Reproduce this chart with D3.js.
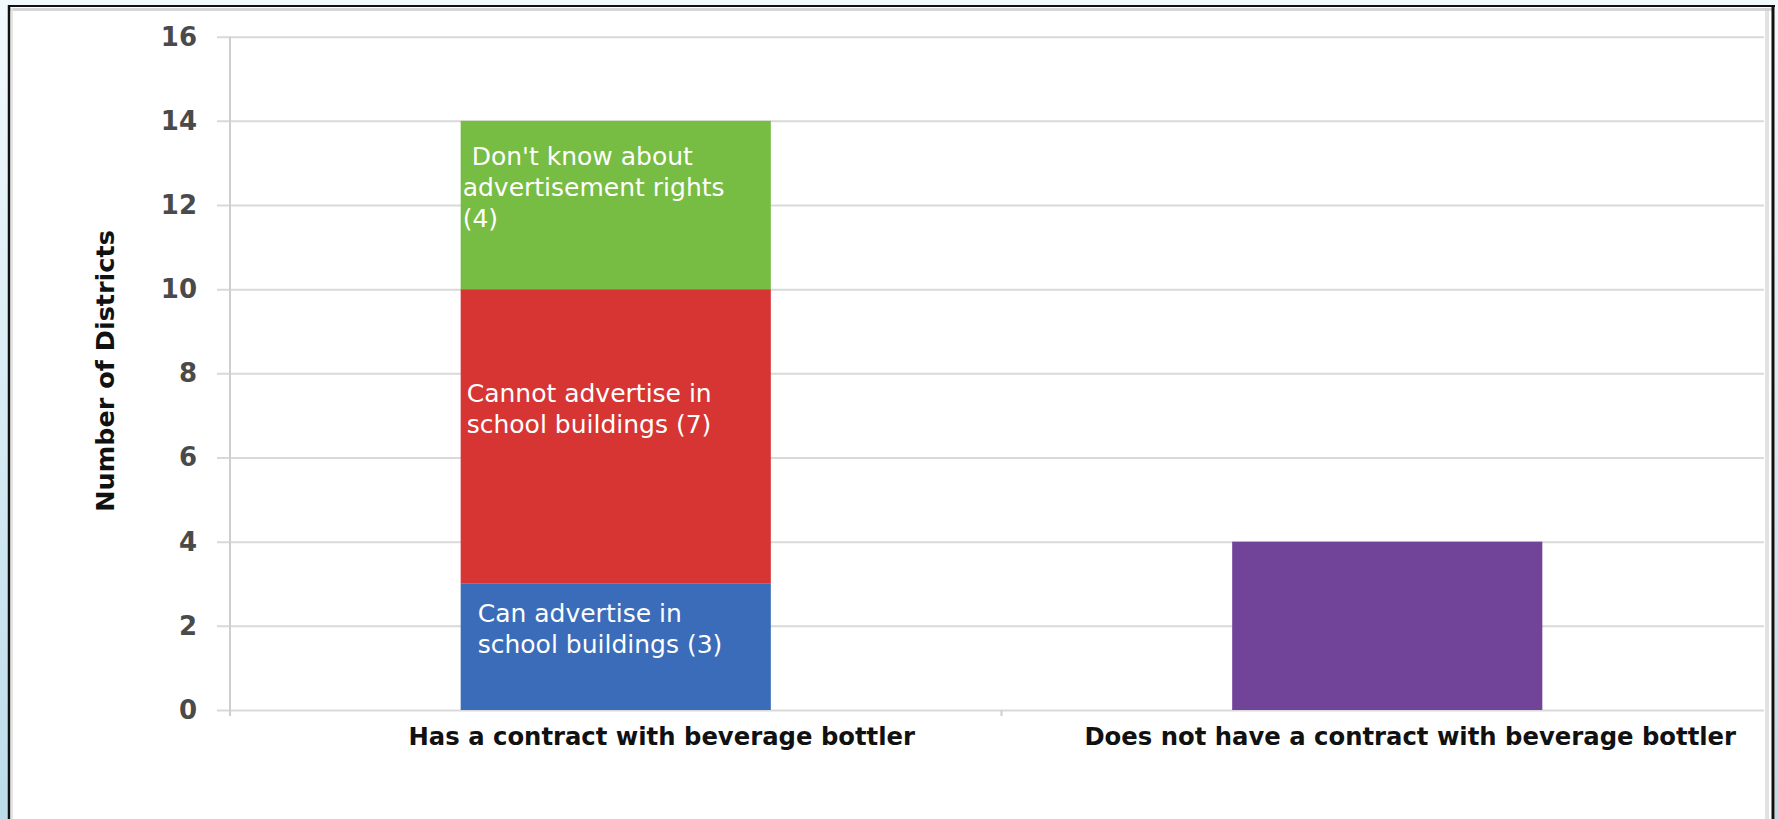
<!DOCTYPE html>
<html>
<head>
<meta charset="utf-8">
<script src="https://cdn.jsdelivr.net/npm/d3@7"></script>
<style>
  html, body { margin: 0; padding: 0; background: #eef8fb; }
  svg { display: block; }
</style>
</head>
<body>
<svg id="chart" width="1778" height="819"></svg>
<script>
// Categories on the x axis
const categories = [
  "Has a contract with beverage bottler",
  "Does not have a contract with beverage bottler"
];

// Series (stack order, bottom to top)
const seriesKeys = ["canAdvertise", "cannotAdvertise", "dontKnow", "noContract"];
const canAdvertise    = [3, 0];
const cannotAdvertise = [7, 0];
const dontKnow        = [4, 0];
const noContract      = [0, 4];

// Segment label text; {v} is replaced by the segment value
const segmentLabels = {
  canAdvertise:    ["Can advertise in", "school buildings ({v})"],
  cannotAdvertise: ["Cannot advertise in", "school buildings ({v})"],
  dontKnow:        ["Don't know about", "advertisement rights", "({v})"]
};

// Y axis ticks
const yTicks = [0, 2, 4, 6, 8, 10, 12, 14, 16];
const yTitle = "Number of Districts";

// ---- styling ----
const colors = {
  canAdvertise: "#3a6cb9",
  cannotAdvertise: "#d63533",
  dontKnow: "#77bc43",
  noContract: "#71449a"
};
// label placement within each segment: x pad from bar left, vertical nudge from centre
const labelPlacement = {
  canAdvertise:    { pad: 17, nudge: -18, firstPad: 17 },
  cannotAdvertise: { pad: 6,  nudge: -28, firstPad: 6 },
  dontKnow:        { pad: 2,  nudge: -18, firstPad: 11 }
};

const W = 1778, H = 819;
const svg = d3.select("#chart");

// ---- page frame ----
const defs = svg.append("defs");
const lg = defs.append("linearGradient").attr("id", "edge").attr("x1", 0).attr("y1", 0).attr("x2", 0).attr("y2", 1);
lg.append("stop").attr("offset", "0%").attr("stop-color", "#f3fafd");
lg.append("stop").attr("offset", "100%").attr("stop-color", "#bcdcea");

svg.append("rect").attr("x", 0).attr("y", 0).attr("width", W).attr("height", H).attr("fill", "#f1f9fc");
svg.append("rect").attr("x", 0).attr("y", 0).attr("width", 8).attr("height", H).attr("fill", "url(#edge)");
svg.append("rect").attr("x", 1775).attr("y", 0).attr("width", 3).attr("height", H).attr("fill", "url(#edge)");
svg.append("rect").attr("x", 9).attr("y", 6).attr("width", 1764).attr("height", H - 6).attr("fill", "#ffffff");
// inner soft shadow lines
svg.append("line").attr("x1", 10).attr("x2", 1772).attr("y1", 9.5).attr("y2", 9.5).attr("stroke", "#c4c4c4").attr("stroke-width", 3).attr("opacity", 0.7);
svg.append("line").attr("x1", 1767).attr("x2", 1767).attr("y1", 8).attr("y2", H).attr("stroke", "#cfcfcf").attr("stroke-width", 4).attr("opacity", 0.6);
svg.append("line").attr("x1", 12).attr("x2", 12).attr("y1", 8).attr("y2", H).attr("stroke", "#e4e4e4").attr("stroke-width", 2);
// black frame
svg.append("line").attr("x1", 8).attr("x2", 1775).attr("y1", 6).attr("y2", 6).attr("stroke", "#111").attr("stroke-width", 2);
svg.append("line").attr("x1", 9).attr("x2", 9).attr("y1", 5).attr("y2", H).attr("stroke", "#111").attr("stroke-width", 2.5);
svg.append("line").attr("x1", 1773).attr("x2", 1773).attr("y1", 5).attr("y2", H).attr("stroke", "#111").attr("stroke-width", 3);

// ---- scales ----
const plotLeft = 230, plotRight = 1773, plotTop = 36.7, plotBottom = 710;
const x = d3.scaleBand().domain(categories).range([plotLeft, plotRight]).padding(0);
const y = d3.scaleLinear().domain([0, 16]).range([plotBottom, plotTop]);
const barWidth = x.bandwidth() * 0.402;

// ---- gridlines / y axis ----
const g = svg.append("g");
const yAxis = d3.axisLeft(y).tickValues(yTicks).tickSize(-(1764 - plotLeft)).tickFormat(d3.format("d"));
const ya = g.append("g").attr("transform", `translate(${plotLeft},0)`).call(yAxis);
ya.select(".domain").remove();
ya.selectAll(".tick line").attr("stroke", "#d9d9d9").attr("stroke-width", 2).attr("x1", -13);
ya.selectAll(".tick text")
  .attr("x", -33)
  .attr("fill", "#4a4a4a")
  .style("font-family", "'DejaVu Sans', sans-serif")
  .style("font-weight", "bold")
  .style("font-size", "26px");

// vertical axis line
g.append("line").attr("x1", plotLeft).attr("x2", plotLeft).attr("y1", plotTop).attr("y2", plotBottom + 6)
  .attr("stroke", "#cfcfcf").attr("stroke-width", 2);
// category separators below the baseline
g.selectAll(".sep").data([categories[1]]).join("line")
  .attr("x1", d => x(d)).attr("x2", d => x(d))
  .attr("y1", plotBottom).attr("y2", plotBottom + 6)
  .attr("stroke", "#cfcfcf").attr("stroke-width", 2);

// y title
svg.append("text")
  .attr("transform", `translate(114,371) rotate(-90)`)
  .attr("text-anchor", "middle")
  .attr("fill", "#111")
  .style("font-family", "'DejaVu Sans', sans-serif")
  .style("font-weight", "bold")
  .style("font-size", "25.5px")
  .text(yTitle);

// ---- stacked bars ----
const rows = categories.map((c, i) => ({
  category: c,
  canAdvertise: canAdvertise[i],
  cannotAdvertise: cannotAdvertise[i],
  dontKnow: dontKnow[i],
  noContract: noContract[i]
}));
const stacked = d3.stack().keys(seriesKeys)(rows);

const layers = svg.append("g").selectAll("g").data(stacked).join("g").attr("fill", d => colors[d.key]);
layers.selectAll("rect")
  .data(d => d.filter(s => s[1] - s[0] > 0).map(s => ({ key: d.key, s })))
  .join("rect")
  .attr("x", d => x(d.s.data.category) + (x.bandwidth() - barWidth) / 2)
  .attr("width", barWidth)
  .attr("y", d => y(d.s[1]))
  .attr("height", d => y(d.s[0]) - y(d.s[1]));

// segment labels
const lineGap = 31, capH = 18;
stacked.forEach(layer => {
  if (!segmentLabels[layer.key]) return;
  layer.forEach(s => {
    const v = s[1] - s[0];
    if (v <= 0) return;
    const lines = segmentLabels[layer.key].map(t => t.replace("{v}", v));
    const place = labelPlacement[layer.key];
    const left = x(s.data.category) + (x.bandwidth() - barWidth) / 2;
    const cy = (y(s[0]) + y(s[1])) / 2 + place.nudge;
    const first = cy - (capH + lineGap * (lines.length - 1)) / 2 + capH;
    const t = svg.append("text")
      .attr("fill", "#ffffff")
      .style("font-family", "'DejaVu Sans', sans-serif")
      .style("font-size", "25px");
    lines.forEach((ln, i) => {
      t.append("tspan")
        .attr("x", left + (i === 0 ? place.firstPad : place.pad))
        .attr("y", first + i * lineGap)
        .text(ln);
    });
  });
});

// ---- category labels ----
const catShift = [46, 23];
svg.append("g").selectAll("text").data(categories).join("text")
  .attr("x", (d, i) => x(d) + x.bandwidth() / 2 + catShift[i])
  .attr("y", 745)
  .attr("text-anchor", "middle")
  .attr("fill", "#111")
  .style("font-family", "'DejaVu Sans', sans-serif")
  .style("font-weight", "bold")
  .style("font-size", "24.3px")
  .text(d => d);
</script>
</body>
</html>
